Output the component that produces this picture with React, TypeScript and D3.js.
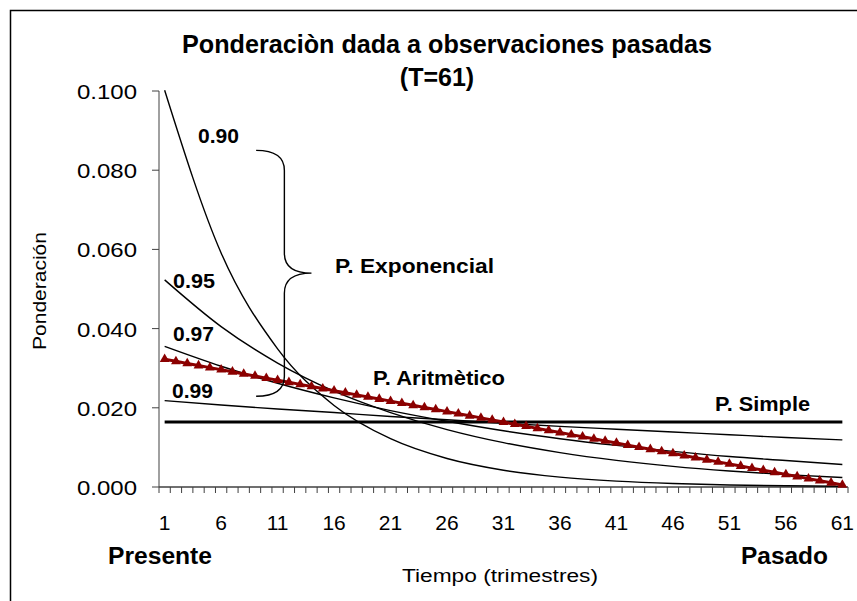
import React from 'react';
import * as d3 from 'd3';

// Time points used for the exponential curves
const tExp = [1, 6, 11, 16, 21, 26, 31, 36, 41, 46, 51, 56, 61];

const exp90 = [0.1002, 0.0591, 0.0349, 0.0206, 0.0122, 0.0072, 0.00424, 0.0025, 0.00148, 0.00087, 0.00052, 0.0003, 0.00018];
const exp95 = [0.0523, 0.0405, 0.0313, 0.0242, 0.0188, 0.0145, 0.0112, 0.00869, 0.00673, 0.0052, 0.00403, 0.00312, 0.00241];
const exp97 = [0.0355, 0.0305, 0.0262, 0.0225, 0.0193, 0.0166, 0.0142, 0.0122, 0.0105, 0.009, 0.0077, 0.0067, 0.0057];
const exp99 = [0.0218, 0.0207, 0.0197, 0.0188, 0.0178, 0.017, 0.0161, 0.0153, 0.0146, 0.0139, 0.0132, 0.0125, 0.0119];

// Arithmetic weights, t = 1..61
const arit = [
  0.03226, 0.03173, 0.0312, 0.03067, 0.03014, 0.02961, 0.02909, 0.02856, 0.02803, 0.0275,
  0.02697, 0.02644, 0.02591, 0.02538, 0.02485, 0.02433, 0.0238, 0.02327, 0.02274, 0.02221,
  0.02168, 0.02115, 0.02062, 0.0201, 0.01957, 0.01904, 0.01851, 0.01798, 0.01745, 0.01692,
  0.01639, 0.01586, 0.01534, 0.01481, 0.01428, 0.01375, 0.01322, 0.01269, 0.01216, 0.01163,
  0.01111, 0.01058, 0.01005, 0.00952, 0.00899, 0.00846, 0.00793, 0.0074, 0.00687, 0.00635,
  0.00582, 0.00529, 0.00476, 0.00423, 0.0037, 0.00317, 0.00264, 0.00212, 0.00159, 0.00106,
  0.00053,
];

const tSimple = [1, 61];
const simple = [0.01639, 0.01639];

const xTickLabels = [1, 6, 11, 16, 21, 26, 31, 36, 41, 46, 51, 56, 61];
const yTicks = [0, 0.02, 0.04, 0.06, 0.08, 0.1];

const FONT = "'Liberation Sans', Arial, sans-serif";

export default function App() {
  const width = 857;
  const height = 601;

  const x = d3.scaleLinear().domain([0.5, 61.5]).range([159, 848]);
  const y = d3.scaleLinear().domain([0, 0.1]).range([487, 91]);

  const expLine = d3.line<number>()
    .x((_, i) => x(tExp[i]))
    .y(d => y(d))
    .curve(d3.curveMonotoneX);

  const aritLine = d3.line<number>()
    .x((_, i) => x(i + 1))
    .y(d => y(d));

  const simpleLine = d3.line<number>()
    .x((_, i) => x(tSimple[i]))
    .y(d => y(d));

  const tri = d3.symbol().type(d3.symbolTriangle).size(42)();

  const minorTicks = d3.range(0, 62).map(i => 0.5 + i);

  // curly brace annotation
  const bx = x(11.6);
  const tipX = x(14);
  const yTop = y(0.085);
  const yMid = y(0.054);
  const yBot = y(0.0229);
  const hookX = x(9.1);
  const brace = `M${hookX},${yTop} Q${bx},${yTop} ${bx},${yTop + 20}
    L${bx},${yMid - 20} Q${bx},${yMid} ${tipX},${yMid}
    Q${bx},${yMid} ${bx},${yMid + 20}
    L${bx},${yBot - 20} Q${bx},${yBot} ${hookX},${yBot}`;

  return (
    <svg width={width} height={height} style={{ position: 'absolute', left: 0, top: 0, background: '#fff' }}>
      <rect x={10.5} y={10.5} width={1000} height={800} fill="none" stroke="#000" strokeWidth={1.5} />

      <text x={447} y={53} textAnchor="middle" fontFamily={FONT} fontWeight="bold" fontSize={25}
        textLength={530} lengthAdjust="spacingAndGlyphs">
        Ponderaciòn dada a observaciones pasadas
      </text>
      <text x={437} y={86} textAnchor="middle" fontFamily={FONT} fontWeight="bold" fontSize={25}>
        (T=61)
      </text>

      {/* y axis */}
      <line x1={159} x2={159} y1={y(0.1)} y2={y(0)} stroke="#808080" strokeWidth={1.5} />
      {yTicks.map(t => (
        <g key={t}>
          <line x1={152} x2={159} y1={y(t)} y2={y(t)} stroke="#404040" strokeWidth={1} />
          <text x={137} y={y(t) + 8} textAnchor="end" fontFamily={FONT} fontSize={21}
            textLength={60} lengthAdjust="spacingAndGlyphs">
            {t.toFixed(3)}
          </text>
        </g>
      ))}
      <text transform={`translate(46,${y(0.05) + 2}) rotate(-90)`} textAnchor="middle" fontFamily={FONT} fontSize={18}
        textLength={118} lengthAdjust="spacingAndGlyphs">
        Ponderación
      </text>

      {/* x axis */}
      <line x1={x(0.5)} x2={x(61.5)} y1={487} y2={487} stroke="#404040" strokeWidth={1.5} />
      {minorTicks.map(t => (
        <line key={t} x1={x(t)} x2={x(t)} y1={487} y2={493} stroke="#404040" strokeWidth={1} />
      ))}
      {xTickLabels.map(t => (
        <text key={t} x={x(t)} y={530} textAnchor="middle" fontFamily={FONT} fontSize={21}>
          {t}
        </text>
      ))}
      <text x={108} y={564} fontFamily={FONT} fontWeight="bold" fontSize={23}
        textLength={104} lengthAdjust="spacingAndGlyphs">Presente</text>
      <text x={741} y={564} fontFamily={FONT} fontWeight="bold" fontSize={23}
        textLength={87} lengthAdjust="spacingAndGlyphs">Pasado</text>
      <text x={402} y={582} fontFamily={FONT} fontSize={18}
        textLength={196} lengthAdjust="spacingAndGlyphs">Tiempo (trimestres)</text>

      {/* series */}
      {[exp90, exp95, exp97, exp99].map((s, i) => (
        <path key={i} d={expLine(s) || ''} fill="none" stroke="#000" strokeWidth={1.4} />
      ))}
      <path d={simpleLine(simple) || ''} fill="none" stroke="#000" strokeWidth={3} />
      <path d={aritLine(arit) || ''} fill="none" stroke="#8B0000" strokeWidth={3} />
      {arit.map((v, i) => (
        <path key={i} d={tri || ''} transform={`translate(${x(i + 1)},${y(v)})`} fill="#8B0000" />
      ))}

      {/* annotations */}
      <path d={brace} fill="none" stroke="#000" strokeWidth={1.4} />
      <g fontFamily={FONT} fontWeight="bold" fontSize={20} lengthAdjust="spacingAndGlyphs">
        <text x={198} y={143} textLength={41} lengthAdjust="spacingAndGlyphs">0.90</text>
        <text x={173} y={288} textLength={42} lengthAdjust="spacingAndGlyphs">0.95</text>
        <text x={173} y={341} textLength={41} lengthAdjust="spacingAndGlyphs">0.97</text>
        <text x={172} y={398} textLength={41} lengthAdjust="spacingAndGlyphs">0.99</text>
        <text x={335} y={273} textLength={159} lengthAdjust="spacingAndGlyphs">P. Exponencial</text>
        <text x={373} y={385} textLength={132} lengthAdjust="spacingAndGlyphs">P. Aritmètico</text>
        <text x={715} y={411} textLength={95} lengthAdjust="spacingAndGlyphs">P. Simple</text>
      </g>
    </svg>
  );
}
